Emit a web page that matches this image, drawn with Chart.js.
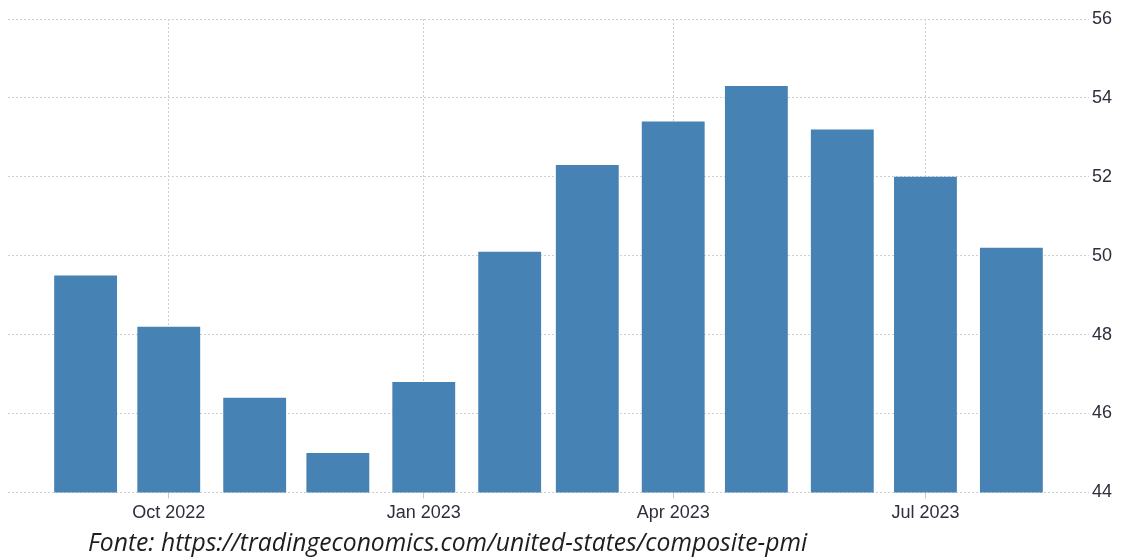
<!DOCTYPE html>
<html>
<head>
<meta charset="utf-8">
<script src="https://cdn.jsdelivr.net/npm/chart.js@4/dist/chart.umd.min.js"></script>
<style>
  html, body { margin: 0; padding: 0; background: #fff; }
  #wrap { position: relative; width: 1121px; height: 528px; }
  #fonte {
    position: absolute; left: 88px; top: 526px;
    font-family: "Open Sans", sans-serif; font-style: italic;
    font-size: 24.7px; color: #1e1e1e; line-height: 32px; white-space: nowrap;
  }
</style>
</head>
<body>
<div id="wrap"><canvas id="grafico"></canvas></div>
<div id="fonte">Fonte: https://tradingeconomics.com/united-states/composite-pmi</div>
<script>
// Meses (primeiro dia de cada mês) e valores do PMI composto
const meses = ['2022-09-01', '2022-10-01', '2022-11-01', '2022-12-01', '2023-01-01', '2023-02-01',
               '2023-03-01', '2023-04-01', '2023-05-01', '2023-06-01', '2023-07-01', '2023-08-01'];
const valores = [49.5, 48.2, 46.4, 45.0, 46.8, 50.1, 52.3, 53.4, 54.3, 53.2, 52.0, 50.2];

// Marcas do eixo X
const marcasData = ['2022-10-01', '2023-01-01', '2023-04-01', '2023-07-01'];
const marcasTexto = ['Oct 2022', 'Jan 2023', 'Apr 2023', 'Jul 2023'];

// Eixo Y
const yMin = 44;
const yMax = 56;
const yPasso = 2;

const pontos = meses.map((m, i) => ({ x: Date.parse(m), y: valores[i] }));
const marcas = marcasData.map(d => Date.parse(d));

const corTexto = '#2e2e3c';
const corGrade = '#cfcfcf';

var ctx = document.getElementById('grafico').getContext('2d');
var grafico = new Chart(ctx, {
    type: 'bar',
    data: {
        datasets: [{
            data: pontos,
            backgroundColor: '#4682b4',
            borderWidth: 0,
            categoryPercentage: 1,
            barPercentage: 0.81
        }]
    },
    options: {
        responsive: true,
        maintainAspectRatio: false,
        animation: false,
        layout: { padding: { left: 8, right: 6, top: 19, bottom: 0 } },
        plugins: { legend: { display: false }, tooltip: { enabled: false } },
        scales: {
            x: {
                type: 'linear',
                offset: false,
                min: Date.UTC(2022, 7, 4),
                max: Date.UTC(2023, 7, 29),
                afterBuildTicks: (eixo) => { eixo.ticks = marcas.map(v => ({ value: v })); },
                ticks: {
                    autoSkip: false,
                    maxRotation: 0,
                    padding: 4,
                    color: corTexto,
                    font: { family: 'Liberation Sans', size: 18 },
                    callback: (v) => marcasTexto[marcas.indexOf(v)] || ''
                },
                grid: { offset: false, color: corGrade, tickLength: 6, tickColor: '#c8c8c8', tickBorderDash: [] },
                border: { display: false, dash: [2, 2] }
            },
            y: {
                position: 'right',
                min: yMin,
                max: yMax,
                ticks: {
                    stepSize: yPasso,
                    padding: 3,
                    color: corTexto,
                    font: { family: 'Liberation Sans', size: 18 }
                },
                grid: { color: corGrade, drawTicks: false },
                border: { display: false, dash: [2, 2] }
            }
        }
    }
});
</script>
</body>
</html>
